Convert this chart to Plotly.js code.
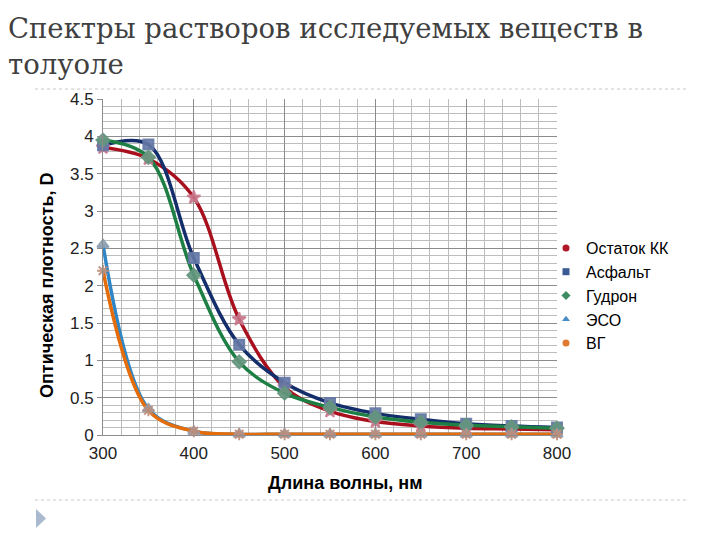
<!DOCTYPE html>
<html>
<head>
<meta charset="utf-8">
<script src="https://cdn.plot.ly/plotly-3.0.1.min.js"></script>
<style>html,body{margin:0;padding:0;background:#fff;}#chart{width:720px;height:540px;}</style>
</head>
<body>
<div id="chart"></div>
<script>
const wavelength = [300, 350, 400, 450, 500, 550, 600, 650, 700, 750, 800];
const ostatokKK = [3.85, 3.70, 3.18, 1.55, 0.64, 0.32, 0.18, 0.12, 0.09, 0.08, 0.07];
const asfalt    = [3.88, 3.89, 2.37, 1.21, 0.70, 0.43, 0.29, 0.21, 0.15, 0.12, 0.10];
const gudron    = [3.95, 3.72, 2.14, 0.98, 0.56, 0.37, 0.24, 0.17, 0.13, 0.11, 0.09];
const eso       = [2.55, 0.35, 0.05, 0.01, 0.01, 0.01, 0.01, 0.01, 0.01, 0.01, 0.01];
const vg        = [2.20, 0.33, 0.05, 0.01, 0.01, 0.01, 0.01, 0.01, 0.01, 0.01, 0.01];
const seriesNames = ['Остаток КК', 'Асфальт', 'Гудрон', 'ЭСО', 'ВГ'];

const titleText = 'Спектры растворов исследуемых веществ в<br>толуоле';
const xTitle = 'Длина волны, нм';
const yTitle = 'Оптическая плотность, D';

const colors = ['#A8101E', '#142E6B', '#1E7F45', '#2F86C6', '#E46C0A'];
const markerColors = ['rgba(200,120,140,0.85)', 'rgba(100,120,165,0.9)', 'rgba(100,150,125,0.9)', 'rgba(140,160,180,0.9)', 'rgba(190,140,120,0.9)'];
const legendMarkerColors = ['#B0182A', '#3A5A94', '#3C8C62', '#4A8CC4', '#E07A30'];
const symbols = ['star', 'square', 'diamond', 'triangle-up', 'asterisk-open'];
const legendSymbols = ['circle', 'square', 'diamond', 'triangle-up', 'circle'];
const data = [ostatokKK, asfalt, gudron, eso, vg];

const lineTraces = data.map((ys, i) => ({
  x: wavelength, y: ys, name: seriesNames[i], type: 'scatter', mode: 'lines', showlegend: false,
  line: {color: colors[i], width: 3.5, shape: 'spline', smoothing: 1}, cliponaxis: false
}));
const markerTraces = data.map((ys, i) => ({
  x: wavelength, y: ys, name: seriesNames[i], type: 'scatter', mode: 'markers', showlegend: false,
  marker: {symbol: symbols[i], size: 10, color: markerColors[i], line: {color: markerColors[i], width: 2}},
  cliponaxis: false
}));
const legendTraces = data.map((ys, i) => ({
  x: [null], y: [null], name: seriesNames[i], type: 'scatter', mode: 'markers', showlegend: true,
  marker: {symbol: legendSymbols[i], size: 7, color: legendMarkerColors[i]}
}));

const px = v => (v - 103) / 454;
const py = v => (435 - v) / 336;
const sans = 'Liberation Sans, Arial, sans-serif';

const layout = {
  width: 720, height: 540,
  margin: {l: 103, r: 163, t: 99, b: 105},
  paper_bgcolor: '#fff', plot_bgcolor: '#fff',
  showlegend: true,
  legend: {x: px(546), xanchor: 'left', y: py(231), yanchor: 'top', font: {family: sans, size: 16, color: '#000'},
           tracegroupgap: 0, itemwidth: 30, itemsizing: 'trace', bgcolor: 'rgba(0,0,0,0)'},
  xaxis: {range: [300, 800], dtick: 100, tick0: 300, showgrid: true, gridcolor: '#8c8c8c', gridwidth: 1,
          minor: {dtick: 20, showgrid: true, gridcolor: '#bdbdbd', gridwidth: 1},
          showline: true, linecolor: '#8c8c8c', linewidth: 1, zeroline: false, ticks: '',
          ticklabelstandoff: 3,
          tickfont: {family: sans, size: 17, color: '#222'}},
  yaxis: {range: [0, 4.5], dtick: 0.5, showgrid: true, gridcolor: '#8c8c8c', gridwidth: 1,
          minor: {dtick: 0.1, showgrid: true, gridcolor: '#bdbdbd', gridwidth: 1},
          showline: true, linecolor: '#8c8c8c', linewidth: 1, zeroline: false,
          ticks: 'outside', ticklen: 5, tickcolor: '#8c8c8c',
          tickfont: {family: sans, size: 17, color: '#222'}},
  annotations: [
    {text: titleText, xref: 'paper', yref: 'paper', x: px(6), y: py(10), xanchor: 'left', yanchor: 'top', align: 'left',
     showarrow: false, font: {family: 'DejaVu Serif, serif', size: 27.5, color: '#404040'}},
    {text: '<b>' + xTitle + '</b>', xref: 'paper', yref: 'paper', x: px(345), y: py(483), xanchor: 'center', yanchor: 'middle',
     showarrow: false, font: {family: sans, size: 18, color: '#000'}},
    {text: '<b>' + yTitle + '</b>', xref: 'paper', yref: 'paper', x: px(47), y: py(286), xanchor: 'center', yanchor: 'middle',
     textangle: -90, showarrow: false, font: {family: sans, size: 18, color: '#000'}}
  ],
  shapes: [
    {type: 'line', xref: 'paper', yref: 'paper', x0: px(35), x1: px(688), y0: py(89), y1: py(89), line: {color: '#c8c8c8', width: 1, dash: 'dot'}},
    {type: 'line', xref: 'paper', yref: 'paper', x0: px(35), x1: px(688), y0: py(500), y1: py(500), line: {color: '#c8c8c8', width: 1, dash: 'dot'}},
    {type: 'path', xref: 'paper', yref: 'paper',
     path: `M ${px(36)} ${py(509)} L ${px(36)} ${py(528)} L ${px(46)} ${py(518.5)} Z`,
     fillcolor: '#a9b9cf', line: {width: 0}}
  ]
};

Plotly.newPlot('chart', lineTraces.concat(markerTraces, legendTraces), layout, {displayModeBar: false, staticPlot: true});
</script>
</body>
</html>
